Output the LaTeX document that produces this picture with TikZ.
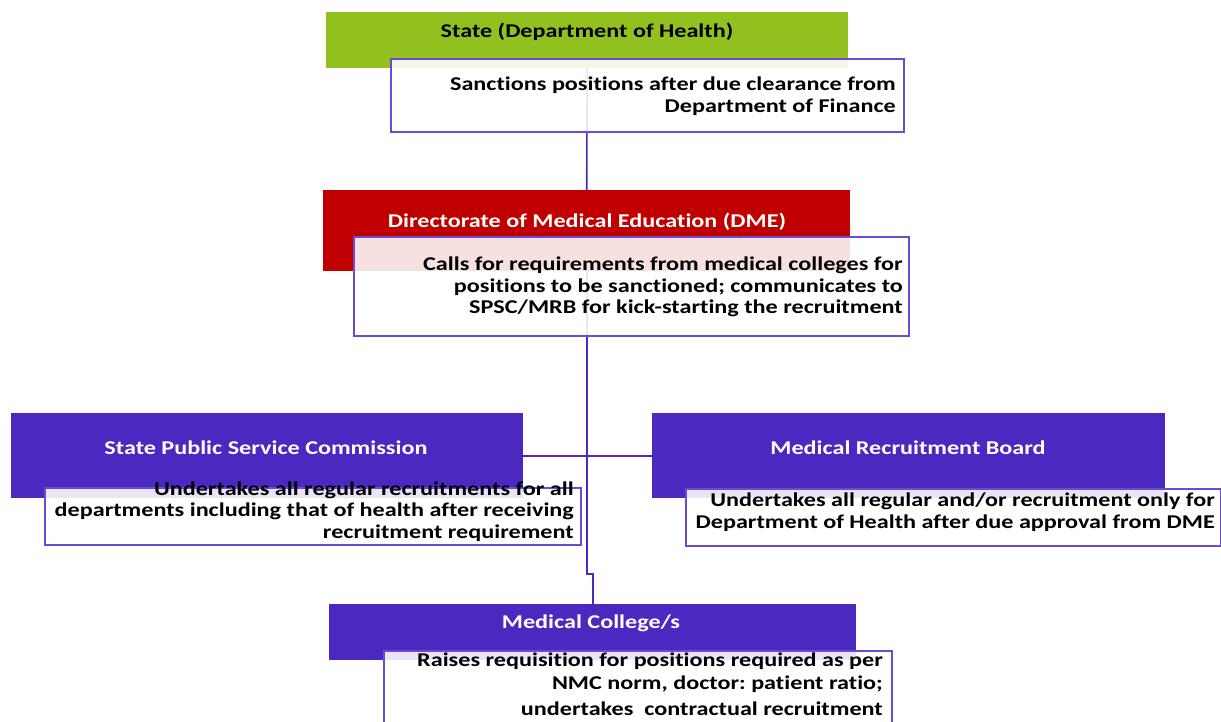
\documentclass[tikz,border=0pt]{standalone}
\usepackage{fontspec}
\setmainfont[FakeStretch=1.24,Ligatures=NoCommon]{Carlito}
\definecolor{cgreen}{HTML}{92C01F}
\definecolor{cred}{HTML}{C00000}
\definecolor{cpurple}{HTML}{4B28C0}
\definecolor{wborder}{HTML}{6A4BD6}
\frenchspacing
\begin{document}
\begin{tikzpicture}[x=1pt,y=-1pt,
  hbox/.style={draw=none, inner sep=0, anchor=north west},
  wbox/.style={draw=wborder, line width=1.6pt, fill=white, fill opacity=0.88, anchor=north west, inner sep=0},
  ttl/.style={font=\bfseries\fontsize{19.5}{21}\selectfont, inner sep=0},
  desc/.style={font=\bfseries\fontsize{19.5}{21.5}\selectfont, align=right, inner sep=0, anchor=east},
  conn/.style={draw=cpurple, line width=1.6pt}]
\useasboundingbox (0,0) rectangle (1221,721);
\clip (0,0) rectangle (1221,721);
% coloured header boxes
\node[hbox, fill=cgreen, minimum width=522pt, minimum height=56pt] (state) at (326,12) {};
\node[hbox, fill=cred, minimum width=527pt, minimum height=81pt] (dme) at (323,190) {};
\node[hbox, fill=cpurple, minimum width=512pt, minimum height=85pt] (spsc) at (11,413) {};
\node[hbox, fill=cpurple, minimum width=513pt, minimum height=85pt] (mrb) at (652,413) {};
\node[hbox, fill=cpurple, minimum width=527pt, minimum height=56pt] (mc) at (329,604) {};
% connectors
\draw[conn] (state.south) -- (dme.north);
\draw[conn] (dme.south) -- (dme.south |- 0,574) -- (mc.north |- 0,574) -- (mc.north);
\draw[conn] (spsc.east) -- (mrb.west);
% white description boxes
\node[wbox, minimum width=513pt, minimum height=73pt] (w1) at (390,58) {};
\node[wbox, minimum width=555pt, minimum height=99pt] (w2) at (353,236) {};
\node[wbox, minimum width=536pt, minimum height=57pt] (w3) at (44,487) {};
\node[wbox, minimum width=535pt, minimum height=57pt] (w4) at (685,488) {};
\node[wbox, minimum width=508pt, minimum height=90pt] (w5) at (383,650) {};
% titles
\node[ttl] (tstate) at (587,31.5) {State (Department of Health)};
\node[ttl, text=white] (tdme) at (587,221.5) {Directorate of Medical Education (DME)};
\node[ttl, text=white] (tspsc) at (266,447.5) {State Public Service Commission};
\node[ttl, text=white] (tmrb) at (908,447.5) {Medical Recruitment Board};
\node[ttl, text=white] (tmc) at (591,623.5) {Medical College/s};
% descriptions
\node[desc] (d1) at (896,96) {Sanctions positions after due clearance from\\Department of Finance};
\node[desc] (d2) at (903,287) {Calls for requirements from medical colleges for\\positions to be sanctioned; communicates to\\SPSC/MRB for kick-starting the recruitment};
\node[desc] (d3) at (574,511.5) {Undertakes all regular recruitments for all\\departments including that of health after receiving\\recruitment requirement};
\node[desc] (d4) at (1215,512) {Undertakes all regular and/or recruitment only for\\Department of Health after due approval from DME};
\node[desc, anchor=north east] (d5) at (883,653) {Raises requisition for positions required as per\\[1pt]NMC norm, doctor: patient ratio;\\[5pt]undertakes\ \ contractual recruitment};
\end{tikzpicture}
\end{document}
